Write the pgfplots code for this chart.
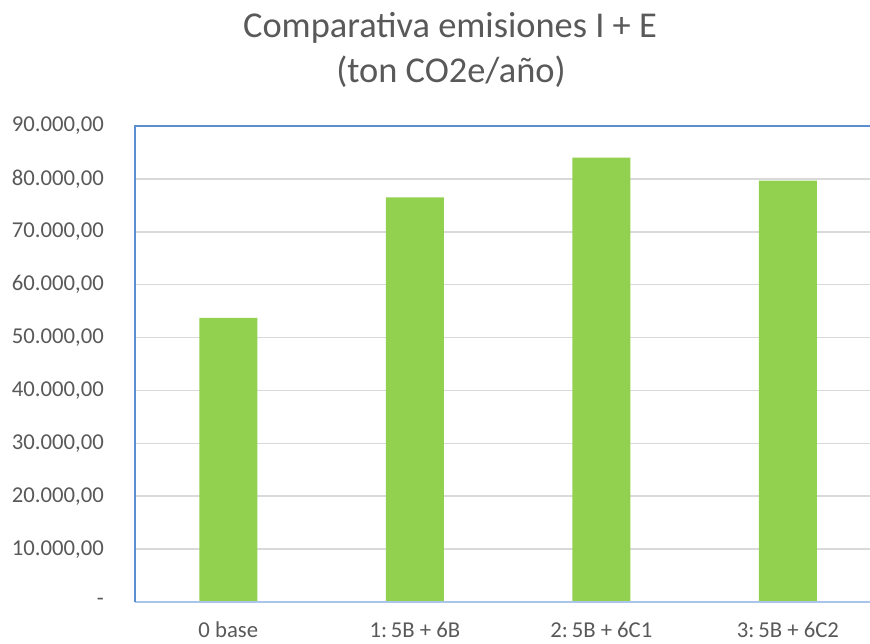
\documentclass[border=0pt]{standalone}
\usepackage{fontspec}
\setmainfont{Carlito}
\usepackage{pgfplots}
\pgfplotsset{compat=1.18}
\definecolor{bargreen}{HTML}{92D050}
\definecolor{txt}{HTML}{595959}
\definecolor{gridc}{HTML}{D9D9D9}
\definecolor{frameblue}{HTML}{5B8FD0}
\definecolor{axblue}{HTML}{A9C5EA}
\begin{document}
\begin{tikzpicture}[x=1pt,y=1pt]
\path[use as bounding box] (0,0) rectangle (870,643);
\node[font=\fontsize{36.4}{44}\selectfont, text=txt, anchor=base] at (450,605) {Comparativa emisiones I + E};
\node[font=\fontsize{36.4}{44}\selectfont, text=txt, anchor=base] at (451,560) {(ton CO2e/año)};
\begin{axis}[
  at={(135pt,41pt)}, anchor=south west,
  scale only axis, width=735pt, height=476pt,
  xmin=-0.5, xmax=3.44, ymin=0, ymax=90000,
  ybar, bar width=58pt,
  scaled y ticks=false,
  ytick={0,10000,20000,30000,40000,50000,60000,70000,80000,90000},
  yticklabels={-,{10.000,00},{20.000,00},{30.000,00},{40.000,00},{50.000,00},{60.000,00},{70.000,00},{80.000,00},{90.000,00}},
  xtick={0,1,2,3},
  xticklabels={0 base,{1:\,5B + 6B},{2:\,5B + 6C1},{3:\,5B + 6C2}},
  major tick length=0pt,
  ymajorgrids, grid style={gridc, line width=1.5pt},
  axis line style={draw=none},
  tick label style={font=\fontsize{22.7}{27}\selectfont, text=txt},
  yticklabel style={anchor=east, inner sep=0pt, xshift=-31pt},
  xticklabel style={anchor=base, inner sep=0pt, yshift=-35pt},
  clip=false,
]
\addplot[fill=bargreen, draw=none] coordinates {(0,53700) (1,76500) (2,84000) (3,79650)};
\draw[axblue, line width=1.5pt] (rel axis cs:0,0) -- (rel axis cs:1,0);
\draw[frameblue, line width=1.5pt] (rel axis cs:0,0) -- (rel axis cs:0,1) -- (rel axis cs:1,1);
\end{axis}
\end{tikzpicture}
\end{document}
